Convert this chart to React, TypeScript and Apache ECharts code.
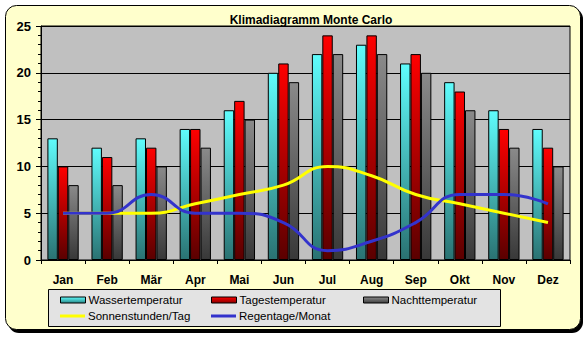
import React, { useEffect, useRef } from "react";
import * as echarts from "echarts";

const months = ["Jan", "Feb", "Mär", "Apr", "Mai", "Jun", "Jul", "Aug", "Sep", "Okt", "Nov", "Dez"];
const wasser = [13, 12, 13, 14, 16, 20, 22, 23, 21, 19, 16, 14];
const tages = [10, 11, 12, 14, 17, 21, 24, 24, 22, 18, 14, 12];
const nacht = [8, 8, 10, 12, 15, 19, 22, 22, 20, 16, 12, 10];
const sonne = [5, 5, 5, 6, 7, 8, 10, 9, 7, 6, 5, 4];
const regen = [5, 5, 7, 5, 5, 4, 1, 2, 4, 7, 7, 6];
const yTicks = [0, 5, 10, 15, 20, 25];

const FONT = "Arial, 'Liberation Sans', sans-serif";

const grad = (top: string, bottom: string) =>
  new echarts.graphic.LinearGradient(0, 0, 0, 1, [
    { offset: 0, color: top },
    { offset: 1, color: bottom },
  ]);

export default function App() {
  const ref = useRef<HTMLDivElement>(null);
  useEffect(() => {
    document.body.style.margin = "0";
    if (!ref.current) return;
    const chart = echarts.init(ref.current, undefined, { renderer: "svg" });
    const legendText = { fontFamily: FONT, fontSize: 11.5, color: "#000" };
    const mkLegend = (name: string, left: number, top: number, isLine: boolean, color: any) => ({
      data: [
        isLine
          ? { name, icon: "rect", itemStyle: { color, borderWidth: 0 } }
          : { name, icon: "rect", itemStyle: { color, borderColor: "#000", borderWidth: 1 } },
      ],
      left,
      top,
      padding: 0,
      itemWidth: 25,
      itemHeight: isLine ? 3 : 6,
      itemGap: 3,
      textStyle: { ...legendText, padding: [0, 0, 0, -2] },
      selectedMode: false,
    });
    chart.setOption({
      animation: false,
      title: {
        text: "Klimadiagramm Monte Carlo",
        left: 306,
        textAlign: "center",
        top: 9,
        textStyle: { fontFamily: FONT, fontSize: 12, fontWeight: "bold", color: "#000" },
      },
      graphic: [
        { type: "rect", z: -20, shape: { x: 8, y: 8, width: 575, height: 325, r: 11 }, style: { fill: "#000" } },
        {
          type: "rect",
          z: -10,
          shape: { x: 5.5, y: 5.5, width: 575, height: 324, r: 11 },
          style: { fill: "#ffffcc", stroke: "#000", lineWidth: 1 },
        },
        {
          type: "rect",
          z: 1,
          shape: { x: 48.5, y: 289.5, width: 452, height: 37 },
          style: { fill: "#e3e3e3", stroke: "#000", lineWidth: 1 },
        },
      ],
      legend: [
        mkLegend("Wassertemperatur", 60, 294, false, grad("#5ffcfc", "#2a8a8a")),
        mkLegend("Tagestemperatur", 211, 294, false, grad("#ff0000", "#8a0000")),
        mkLegend("Nachttemperatur", 363, 294, false, grad("#8a8a8a", "#404040")),
        mkLegend("Sonnenstunden/Tag", 60, 310, true, "#ffff00"),
        mkLegend("Regentage/Monat", 211, 310, true, "#3333cc"),
      ],
      grid: {
        left: 41,
        right: 18,
        top: 26,
        bottom: 77,
        show: true,
        backgroundColor: "#c0c0c0",
        borderColor: "#000",
        borderWidth: 1,
      },
      xAxis: {
        type: "category",
        data: months,
        boundaryGap: true,
        axisLine: { show: true, lineStyle: { color: "#000", width: 1 } },
        axisTick: { show: true, length: 4, lineStyle: { color: "#000" } },
        axisLabel: { fontFamily: FONT, fontSize: 12, fontWeight: "bold", color: "#000", margin: 14 },
      },
      yAxis: {
        type: "value",
        min: yTicks[0],
        max: yTicks[yTicks.length - 1],
        interval: 5,
        axisLine: { show: true, lineStyle: { color: "#000", width: 1 } },
        axisTick: { show: true, length: 5, lineStyle: { color: "#000" } },
        minorTick: { show: true, splitNumber: 5, length: 3, lineStyle: { color: "#000" } },
        splitLine: { show: true, lineStyle: { color: "#000", width: 1 } },
        axisLabel: { fontFamily: FONT, fontSize: 13, fontWeight: "bold", color: "#000", margin: 10 },
      },
      series: [
        {
          name: "Wassertemperatur",
          type: "bar",
          data: wasser,
          barGap: "0%",
          barCategoryGap: "29%",
          itemStyle: { color: grad("#5ffcfc", "#2a7272"), borderColor: "#000", borderWidth: 1 },
        },
        {
          name: "Tagestemperatur",
          type: "bar",
          data: tages,
          barGap: "0%",
          barCategoryGap: "29%",
          itemStyle: { color: grad("#ff0000", "#5a0000"), borderColor: "#000", borderWidth: 1 },
        },
        {
          name: "Nachttemperatur",
          type: "bar",
          data: nacht,
          barGap: "0%",
          barCategoryGap: "29%",
          itemStyle: { color: grad("#8a8a8a", "#383838"), borderColor: "#000", borderWidth: 1 },
        },
        {
          name: "Sonnenstunden/Tag",
          type: "line",
          data: sonne,
          smooth: 0.5,
          symbol: "none",
          lineStyle: { color: "#ffff00", width: 3 },
          itemStyle: { color: "#ffff00" },
        },
        {
          name: "Regentage/Monat",
          type: "line",
          data: regen,
          smooth: 0.5,
          symbol: "none",
          lineStyle: { color: "#3333cc", width: 3 },
          itemStyle: { color: "#3333cc" },
        },
      ],
    });
    return () => chart.dispose();
  }, []);
  return <div ref={ref} style={{ width: 588, height: 337 }} />;
}
